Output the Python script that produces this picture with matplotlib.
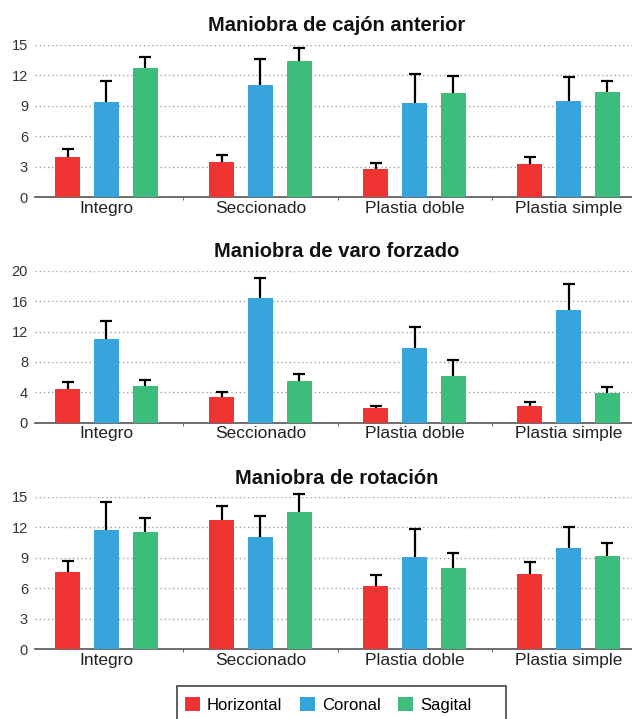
import numpy as np
import matplotlib
matplotlib.use('Agg')
import matplotlib.pyplot as plt
from matplotlib.patches import Rectangle, Patch

plt.rcParams['font.family'] = ['Liberation Sans', 'DejaVu Sans']

grupos = ['Integro', 'Seccionado', 'Plastia doble', 'Plastia simple']
series = ['Horizontal', 'Coronal', 'Sagital']
colores = ['#f03434', '#38a4dc', '#3dbd7c']

# Maniobra de cajón anterior
cajon_media = [
    [4.0, 3.5, 2.8, 3.3],
    [9.4, 11.1, 9.3, 9.5],
    [12.75, 13.45, 10.25, 10.4],
]
cajon_de = [
    [0.75, 0.7, 0.6, 0.65],
    [2.05, 2.55, 2.8, 2.3],
    [1.1, 1.3, 1.65, 1.05],
]

# Maniobra de varo forzado
varo_media = [
    [4.5, 3.35, 1.9, 2.15],
    [10.95, 16.45, 9.85, 14.8],
    [4.85, 5.45, 6.2, 3.9],
]
varo_de = [
    [0.85, 0.65, 0.35, 0.6],
    [2.45, 2.55, 2.75, 3.5],
    [0.75, 0.9, 2.0, 0.75],
]

# Maniobra de rotación
rot_media = [
    [7.55, 12.7, 6.25, 7.45],
    [11.7, 11.05, 9.05, 10.0],
    [11.55, 13.5, 7.95, 9.2],
]
rot_de = [
    [1.15, 1.4, 1.05, 1.1],
    [2.8, 2.1, 2.75, 2.05],
    [1.35, 1.8, 1.55, 1.2],
]

paneles = [
    ('Maniobra de cajón anterior', cajon_media, cajon_de, [0, 3, 6, 9, 12, 15]),
    ('Maniobra de varo forzado', varo_media, varo_de, [0, 4, 8, 12, 16, 20]),
    ('Maniobra de rotación', rot_media, rot_de, [0, 3, 6, 9, 12, 15]),
]

W, H = 632, 719
fig = plt.figure(figsize=(W / 100, H / 100), dpi=100)

# (pixel del tope del eje, pixel del cero, baseline del titulo)
posiciones = [(45, 197.3, 31), (270.7, 422.7, 257), (496.7, 649.3, 484)]

x = np.arange(len(grupos))
ancho = 0.162
paso = 0.251

for (titulo, medias, des, yticks), (ytop, ybot, ytit) in zip(paneles, posiciones):
    ax = fig.add_axes([35 / W, 1 - ybot / H, (W - 35) / W, (ybot - ytop) / H])
    for i in range(3):
        cont = ax.bar(x + (i - 1) * paso, medias[i], ancho, color=colores[i],
                      yerr=[np.zeros(4), des[i]], capsize=4.5,
                      error_kw=dict(ecolor='black', elinewidth=1.6, capthick=1.6),
                      zorder=3)
        data_line, caps, cols = cont.errorbar.lines
        # solo el error superior: se oculta el cap inferior
        caps[0].set_visible(False)
        for c in caps:
            c.set_clip_on(False)
        for c in cols:
            c.set_clip_on(False)
    ax.set_xlim(-0.464, 3.412)
    ax.set_ylim(0, yticks[-1])
    ax.set_yticks(yticks)
    ax.set_xticks(x)
    ax.set_xticklabels(grupos)
    ax.set_xticks([0.5, 1.5, 2.5], minor=True)
    ax.tick_params(axis='x', which='major', length=0, pad=2.5, labelsize=12.5, labelcolor='#222')
    ax.tick_params(axis='x', which='minor', length=2.5, color='#555', direction='out')
    ax.tick_params(axis='y', length=0, pad=5, labelsize=10.5, labelcolor='#333')
    ax.yaxis.grid(True, linestyle=(0, (1, 2)), color='#a0a0a0', linewidth=1)
    ax.set_axisbelow(True)
    for s in ['top', 'right', 'left']:
        ax.spines[s].set_visible(False)
    ax.spines['bottom'].set_color('#555')
    ax.spines['bottom'].set_linewidth(1.2)
    fig.text(337 / W, 1 - ytit / H, titulo, ha='center', va='baseline',
             fontsize=14.5, fontweight='bold', color='#111')

# leyenda
handles = [Patch(facecolor=c, edgecolor='none') for c in colores]
fig.legend(handles, series, loc='center left', bbox_to_anchor=(185 / W, 1 - 705 / H),
           ncol=3, frameon=False, fontsize=12, borderpad=0, borderaxespad=0,
           handlelength=0.9, handleheight=0.9, handletextpad=0.42, columnspacing=1.05)
fig.patches.append(Rectangle((177 / W, -0.01), (506 - 177) / W, (719 - 686) / H + 0.01,
                             transform=fig.transFigure, fill=False,
                             edgecolor='#444', linewidth=1.2))

fig.savefig('out.png', dpi=100)
